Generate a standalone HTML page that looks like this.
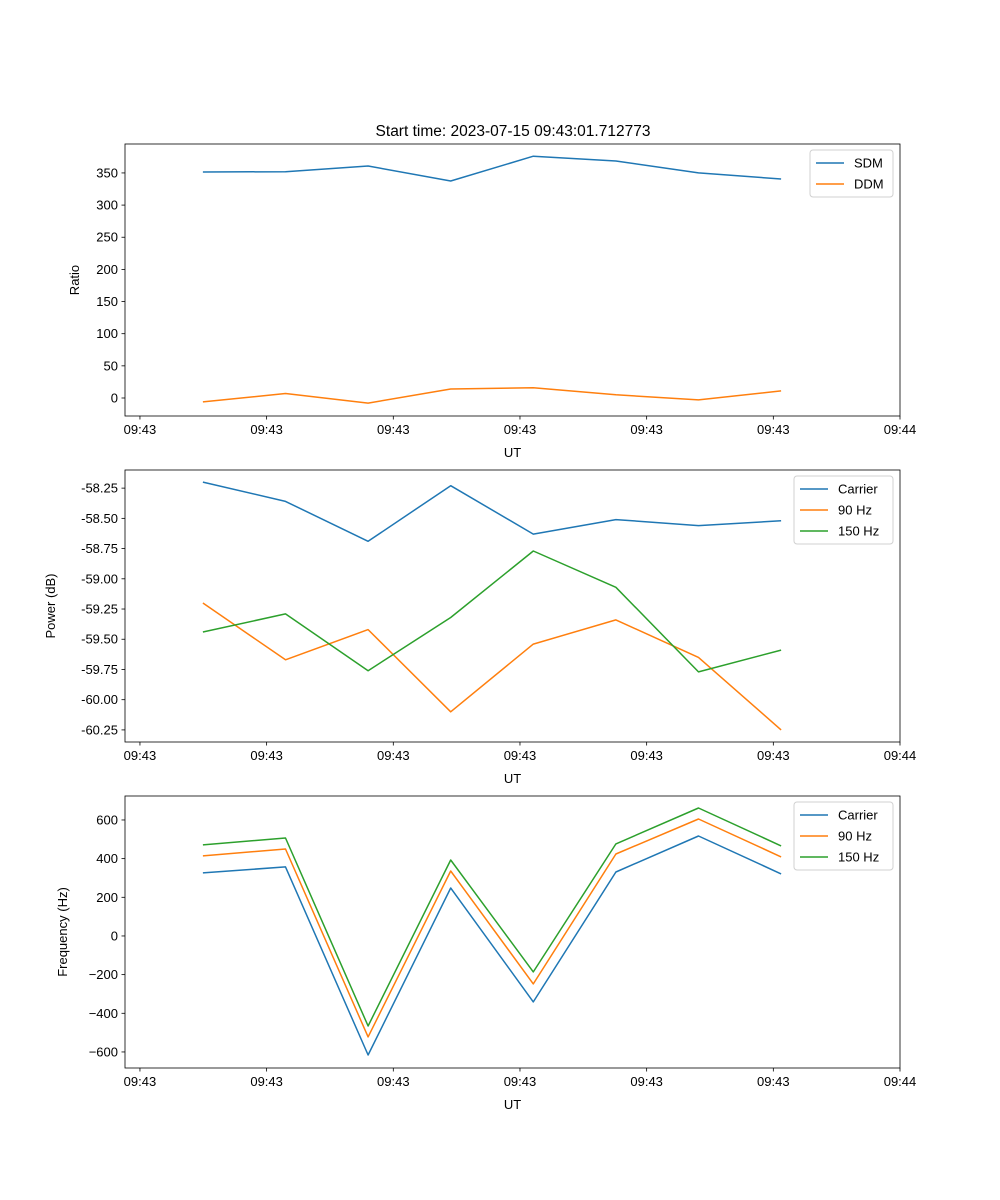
<!DOCTYPE html>
<html><head><meta charset="utf-8"><style>
body{margin:0;background:#fff}
svg{display:block;font-family:"Liberation Sans","DejaVu Sans",sans-serif}
</style></head><body>
<svg id="fig" width="1000" height="1200" viewBox="0 0 1000 1200"></svg>
<script>
const times = [4.97, 11.49, 18.01, 24.53, 31.05, 37.57, 44.09, 50.61];
const xTickVals = [0, 10, 20, 30, 40, 50, 60];
const xTickLabels = ["09:43","09:43","09:43","09:43","09:43","09:43","09:44"];
const sdm = [351.5, 352, 360.8, 337.5, 376, 368.6, 350, 340.6];
const ddm = [-6, 7, -8, 14, 16, 5, -3, 11];
const powCarrier = [-58.20, -58.36, -58.69, -58.23, -58.63, -58.51, -58.56, -58.52];
const pow90 = [-59.20, -59.67, -59.42, -60.10, -59.54, -59.34, -59.65, -60.25];
const pow150 = [-59.44, -59.29, -59.76, -59.32, -58.77, -59.07, -59.77, -59.59];
const freqCarrier = [326, 357, -616, 248, -341, 331, 517, 321];
const freq90 = [414, 450, -522, 336, -248, 424, 605, 409];
const freq150 = [471, 507, -466, 393, -186, 476, 662, 466];
const ratioTicks = [0, 50, 100, 150, 200, 250, 300, 350];
const powTicks = [-60.25, -60.00, -59.75, -59.50, -59.25, -59.00, -58.75, -58.50, -58.25];
const freqTicks = [-600, -400, -200, 0, 200, 400, 600];

const NS = "http://www.w3.org/2000/svg";
const svg = document.getElementById("fig");
function el(tag, attrs, parent){const e=document.createElementNS(NS,tag);for(const k in attrs)e.setAttribute(k,attrs[k]);(parent||svg).appendChild(e);return e;}
const L=125,R=900,xmin=-1.18,xmax=60;
const xs=t=>L+(t-xmin)/(xmax-xmin)*(R-L);

function panel(name, top, bot, ymin, ymax, yticks, fmt, ylabel, ylabX, series, legW){
  const g=el("g",{});
  
  
  const ys=v=>bot-(v-ymin)/(ymax-ymin)*(bot-top);
  series.forEach(s=>{
    const p=el("polyline",{points:s.data.map((v,i)=>xs(times[i]).toFixed(1)+","+ys(v).toFixed(1)).join(" "),fill:"none",stroke:s.color,"stroke-width":1.5,"stroke-linejoin":"round"},g);
    
    
  });
  el("rect",{x:L,y:top,width:R-L,height:bot-top,fill:"none",stroke:"#000","stroke-width":0.8},g);
  xTickVals.forEach((t,i)=>{
    const x=xs(t);
    el("line",{x1:x,x2:x,y1:bot,y2:bot+3.5,stroke:"#000","stroke-width":0.8},g);
    const tx=el("text",{x:x,y:bot+18,"font-size":13,"text-anchor":"middle"},g);tx.textContent=xTickLabels[i];
    
    
  });
  yticks.forEach(v=>{
    const y=ys(v);
    el("line",{x1:L,x2:L-3.5,y1:y,y2:y,stroke:"#000","stroke-width":0.8},g);
    const tx=el("text",{x:L-7,y:y+4.5,"font-size":13,"text-anchor":"end"},g);tx.textContent=fmt(v);
    
    
  });
  const xl=el("text",{x:(L+R)/2,y:bot+41,"font-size":13,"text-anchor":"middle"},g);xl.textContent="UT";
  
  
  const cy=(top+bot)/2;
  const yl=el("text",{x:ylabX,y:cy,"font-size":13,"text-anchor":"middle",transform:`rotate(-90 ${ylabX} ${cy})`},g);yl.textContent=ylabel;
  
  
  const lg=el("g",{},g);
  
  
  const lx=R-7-legW, ly=top+6;
  el("rect",{x:lx,y:ly,width:legW,height:series.length*21+5,rx:3,fill:"#fff",stroke:"#ccc","stroke-width":1,opacity:0.9},lg);
  series.forEach((s,i)=>{
    const yy=ly+13+i*21;
    el("line",{x1:lx+6,x2:lx+34,y1:yy,y2:yy,stroke:s.color,"stroke-width":1.5},lg);
    const t=el("text",{x:lx+44,y:yy+4.5,"font-size":13},lg);t.textContent=s.label;
    
    
  });
}
const B="#1f77b4",O="#ff7f0e",G="#2ca02c";
panel("ratio",144,416,-28,395,ratioTicks,v=>String(v),"Ratio",79,
  [{key:"sdm",label:"SDM",data:sdm,color:B},{key:"ddm",label:"DDM",data:ddm,color:O}],83);
panel("power",470,742,-60.35,-58.10,powTicks,v=>v.toFixed(2),"Power (dB)",55,
  [{key:"carrier",label:"Carrier",data:powCarrier,color:B},{key:"90hz",label:"90 Hz",data:pow90,color:O},{key:"150hz",label:"150 Hz",data:pow150,color:G}],99);
panel("frequency",796,1068,-683,724,freqTicks,v=>v<0?"\u2212"+(-v):String(v),"Frequency (Hz)",67,
  [{key:"carrier",label:"Carrier",data:freqCarrier,color:B},{key:"90hz",label:"90 Hz",data:freq90,color:O},{key:"150hz",label:"150 Hz",data:freq150,color:G}],99);
const title=el("text",{x:513,y:136,"font-size":15.5,"text-anchor":"middle"});
title.textContent="Start time: 2023-07-15 09:43:01.712773";


</script>
</body></html>
